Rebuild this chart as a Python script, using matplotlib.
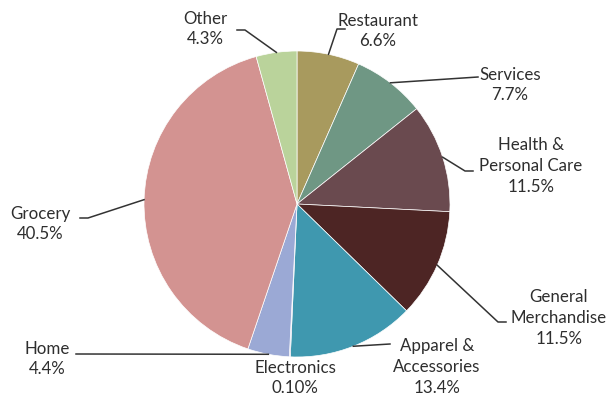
import matplotlib
matplotlib.use("Agg")
import matplotlib.pyplot as plt
import numpy as np

plt.rcParams['font.family'] = ['Lato', 'DejaVu Sans']

categories = ['Restaurant', 'Services', 'Health &\nPersonal Care', 'General\nMerchandise',
              'Apparel &\nAccessories', 'Electronics', 'Home', 'Grocery', 'Other']
shares = [6.6, 7.7, 11.5, 11.5, 13.4, 0.10, 4.4, 40.5, 4.3]
pct_labels = ['6.6%', '7.7%', '11.5%', '11.5%', '13.4%', '0.10%', '4.4%', '40.5%', '4.3%']
colors = ['#A89A5E', '#6F9784', '#6A4A4F', '#4D2524', '#3F98AF',
          '#8064A2', '#9BA9D5', '#D39391', '#BAD39B']

# pixel-space layout: pie centre and radius, label centres, leader elbows
W, H = 610, 398
cx, cy, R = 297, 204, 153

def to_data(px, py):
    return (px - cx) / R, (cy - py) / R

label_pos = [(378, 31), (510, 85), (531, 166), (559, 318),
             (437, 367), (295, 378), (47, 359), (40, 224), (205, 29)]
# leader route: list of pixel points after the wedge edge, None = no line
leaders = [[(337, 29), (345, 29)],
           [(478, 77)],
           [(465, 171), (473, 171)],
           [(498, 322), (506, 322)],
           [(390, 344)],
           None,
           [(76, 354)],
           [(88, 218), (80, 218)],
           [(245, 30), (237, 30)]]

fig = plt.figure(figsize=(W / 100, H / 100), dpi=100)
ax = fig.add_axes([0, 0, 1, 1])
wedges, _ = ax.pie(shares, colors=colors, startangle=90, counterclock=False,
                   radius=1.0, center=(0, 0),
                   wedgeprops=dict(edgecolor='white', linewidth=0.5))
ax.set_xlim(-cx / R, (W - cx) / R)
ax.set_ylim(-(H - cy) / R, cy / R)
ax.set_aspect('equal')
ax.axis('off')

for w, name, pct, pos, route in zip(wedges, categories, pct_labels, label_pos, leaders):
    tx, ty = to_data(*pos)
    ax.text(tx, ty, name + '\n' + pct, ha='center', va='center', fontsize=12.2,
            color='#2e2e2e', linespacing=1.35)
    if route is None:
        continue
    mid = np.deg2rad((w.theta1 + w.theta2) / 2)
    xs = [np.cos(mid)] + [to_data(*p)[0] for p in route]
    ys = [np.sin(mid)] + [to_data(*p)[1] for p in route]
    ax.plot(xs, ys, color='#333333', lw=1.1)

fig.savefig('out.png', dpi=100)
